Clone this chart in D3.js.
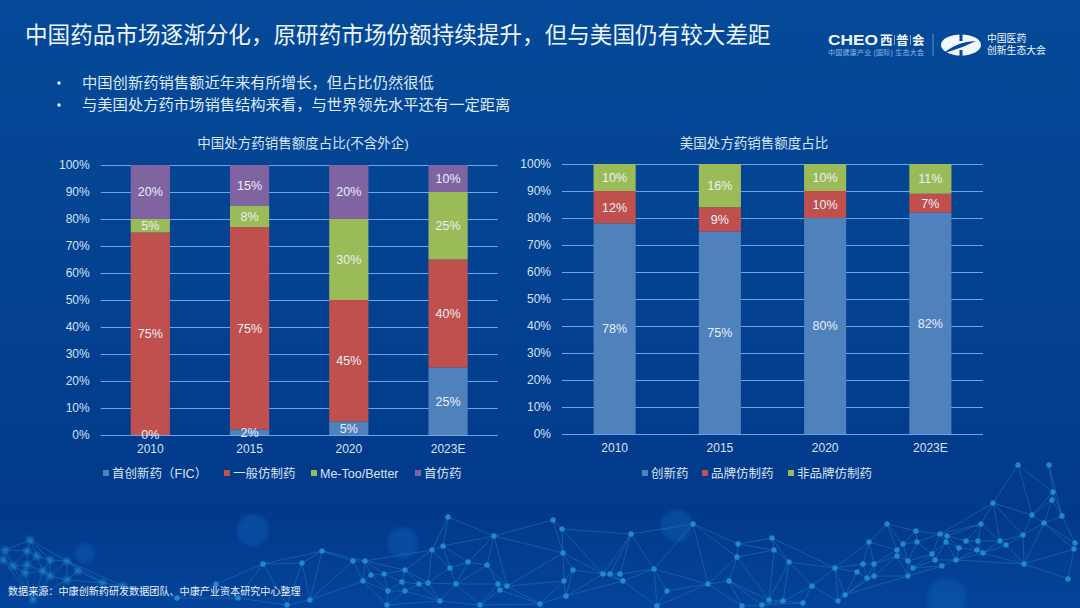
<!DOCTYPE html>
<html>
<head>
<meta charset="utf-8">
<script src="https://cdn.jsdelivr.net/npm/d3@7"></script>
<style>
  html, body { margin: 0; padding: 0; background: #03408f; }
  svg { display: block; font-family: "Liberation Sans", "Noto Sans CJK SC", sans-serif; }
</style>
</head>
<body>
<svg id="chart" width="1080" height="608"></svg>
<script>
// chart values
var years = ["2010", "2015", "2020", "2023E"];
var ticks = [0, 10, 20, 30, 40, 50, 60, 70, 80, 90, 100];

var cnNames = ["首创新药（FIC）", "一般仿制药", "Me-Too/Better", "首仿药"];
var cnFic = [0, 2, 5, 25];
var cnGeneric = [75, 75, 45, 40];
var cnMeToo = [5, 8, 30, 25];
var cnFirst = [20, 15, 20, 10];

var usNames = ["创新药", "品牌仿制药", "非品牌仿制药"];
var usInnovative = [78, 75, 80, 82];
var usBrand = [12, 9, 10, 7];
var usNonBrand = [10, 16, 10, 11];

var colors = ["#4f81bd", "#c0504d", "#9bbb59", "#8064a2"];

// background network (page pixels)
var netNodes = [[448,517],[494,536],[553,520],[562,529],[631,534],[693,524],[563,553],[573,570],[654,569],[708,584],
  [603,574],[610,574],[620,574],[623,581],[667,591],[564,581],[566,596],[487,565],[468,562],[450,568],[432,550],[443,546],
  [365,561],[405,570],[384,574],[371,575],[363,581],[402,582],[419,584],[428,583],[456,584],[498,584],[507,586],[500,590],
  [388,591],[405,591],[440,601],[387,605],[540,604],[480,605],[657,606],
  [1018,465],[1049,465],[1053,492],[1052,500],[993,503],[1032,515],[1062,516],[1044,523],[981,524],[887,524],[916,531],
  [940,534],[947,536],[917,542],[946,542],[903,544],[869,542],[772,538],[738,544],[774,550],[737,557],[789,562],[729,581],
  [835,568],[857,572],[863,564],[874,564],[867,578],[874,576],[897,550],[897,556],[908,561],[913,568],[908,576],[932,554],
  [935,560],[942,566],[956,560],[959,548],[966,541],[978,541],[977,550],[983,553],[1000,541],[1006,545],[1023,535],[1024,564],
  [1068,579],[1075,543],[1074,549],[812,586],[769,600],[783,601],[845,595],[838,601],[803,603],[762,605],[742,606],
  [322,551],[302,563],[263,564],[353,561],[216,584],[310,600],[177,598],[238,598],[287,605],
  [30,540],[5,550],[27,551],[3,560],[37,556],[50,560],[13,566],[27,565],[25,573],[43,571],[67,561],[50,576],[78,571],[67,580],
  [103,583],[33,600],[123,586]];
var blurSpots = [[253,530,16,16],[85,553,10,10],[403,543,15,16],[677,526,16,16],[947,598,20,20]];

var svg = d3.select("#chart");
var defs = svg.append("defs");

var bg = defs.append("linearGradient").attr("id", "bg").attr("x1", 0).attr("y1", 0).attr("x2", 0).attr("y2", 1);
bg.append("stop").attr("offset", "0%").attr("stop-color", "#044a98");
bg.append("stop").attr("offset", "60%").attr("stop-color", "#033f8f");
bg.append("stop").attr("offset", "85%").attr("stop-color", "#03398a");
bg.append("stop").attr("offset", "100%").attr("stop-color", "#03449a");

defs.append("filter").attr("id", "soft").append("feGaussianBlur").attr("stdDeviation", 2);
defs.append("filter").attr("id", "glow").append("feGaussianBlur").attr("stdDeviation", 0.5);
defs.append("filter").attr("id", "haze").append("feGaussianBlur").attr("stdDeviation", 1.6);

svg.append("rect").attr("width", 1080).attr("height", 608).attr("fill", "url(#bg)");

// network decoration
var delaunay = d3.Delaunay.from(netNodes);
var edges = [];
var tri = delaunay.triangles;
for (var i = 0; i < tri.length; i += 3) {
    [[tri[i], tri[i + 1]], [tri[i + 1], tri[i + 2]], [tri[i + 2], tri[i]]].forEach(function (e) {
        var a = netNodes[e[0]], b = netNodes[e[1]];
        if (e[0] < e[1] && Math.hypot(a[0] - b[0], a[1] - b[1]) < 72) edges.push([a, b]);
    });
}

var net = svg.append("g");
net.selectAll("ellipse.spot").data(blurSpots).enter().append("ellipse")
    .attr("class", "spot")
    .attr("cx", function (d) { return d[0]; })
    .attr("cy", function (d) { return d[1]; })
    .attr("rx", function (d) { return d[2]; })
    .attr("ry", function (d) { return d[3]; })
    .attr("fill", "#0f5bb2").attr("opacity", 0.5).attr("filter", "url(#soft)");
net.selectAll("line").data(edges).enter().append("line")
    .attr("x1", function (d) { return d[0][0]; })
    .attr("y1", function (d) { return d[0][1]; })
    .attr("x2", function (d) { return d[1][0]; })
    .attr("y2", function (d) { return d[1][1]; })
    .attr("stroke", "#2a86c8").attr("stroke-width", 0.7).attr("opacity", 0.6);
net.selectAll("circle").data(netNodes).enter().append("circle")
    .attr("cx", function (d) { return d[0]; })
    .attr("cy", function (d) { return d[1]; })
    .attr("r", function (d) { return d[0] < 130 ? 3.6 : 2.7; })
    .attr("fill", "#2490cf").attr("opacity", function (d) { return d[0] < 130 ? 0.6 : 0.9; })
    .attr("filter", function (d) { return d[0] < 130 ? "url(#haze)" : "url(#glow)"; });

// title + bullets
svg.append("text").attr("x", 25).attr("y", 43).attr("font-size", 22.6).attr("fill", "#eef5fb")
    .text("中国药品市场逐渐分化，原研药市场份额持续提升，但与美国仍有较大差距");

var bullets = ["中国创新药销售额近年来有所增长，但占比仍然很低", "与美国处方药市场销售结构来看，与世界领先水平还有一定距离"];
bullets.forEach(function (t, i) {
    var y = 88 + i * 22;
    svg.append("circle").attr("cx", 59).attr("cy", y - 5).attr("r", 1.7).attr("fill", "#eef5fb");
    svg.append("text").attr("x", 82).attr("y", y).attr("font-size", 15.3).attr("fill", "#dfeaf6").text(t);
});

// logo
var logo = svg.append("g").attr("fill", "#f2f7fc");
logo.append("text").attr("x", 828).attr("y", 45).attr("font-size", 15.5).attr("font-weight", "bold")
    .attr("textLength", 50).attr("lengthAdjust", "spacingAndGlyphs").text("CHEO");
logo.append("text").attr("x", 880).attr("y", 45).attr("font-size", 12.5).attr("font-weight", "bold").text("西");
logo.append("text").attr("x", 896).attr("y", 45).attr("font-size", 12.5).attr("font-weight", "bold").text("普");
logo.append("text").attr("x", 912).attr("y", 45).attr("font-size", 12.5).attr("font-weight", "bold").text("会");
logo.append("line").attr("x1", 894.5).attr("x2", 894.5).attr("y1", 35).attr("y2", 45).attr("stroke", "#c9dcf0").attr("stroke-width", 0.6);
logo.append("line").attr("x1", 910.5).attr("x2", 910.5).attr("y1", 35).attr("y2", 45).attr("stroke", "#c9dcf0").attr("stroke-width", 0.6);
logo.append("text").attr("x", 828).attr("y", 55).attr("font-size", 7).attr("fill", "#8fb8e2")
    .attr("textLength", 96).text("中国健康产业 (国际) 生态大会");
logo.append("line").attr("x1", 933).attr("x2", 933).attr("y1", 34).attr("y2", 56).attr("stroke", "#5f8fc8");
logo.append("ellipse").attr("cx", 961).attr("cy", 45).attr("rx", 20).attr("ry", 10.5);
logo.append("path").attr("d", "M941 56 Q954 42 976 41 Q962 48 948 52 Z").attr("fill", "#03479a");
logo.append("rect").attr("x", 959.5).attr("y", 34).attr("width", 3).attr("height", 7).attr("fill", "#03479a");
logo.append("rect").attr("x", 959.5).attr("y", 50).attr("width", 3).attr("height", 7).attr("fill", "#03479a");
logo.append("text").attr("x", 987).attr("y", 42).attr("font-size", 9.8).text("中国医药");
logo.append("text").attr("x", 987).attr("y", 54).attr("font-size", 9.8).text("创新生态大会");

// one stacked panel
function drawPanel(o) {
    var x = d3.scaleBand().domain(years).range(o.xRange).paddingInner(o.pad).paddingOuter(o.pad / 2);
    var y = d3.scaleLinear().domain([0, 100]).range(o.yRange);
    var g = svg.append("g");

    var rows = years.map(function (yr, i) {
        var row = { year: yr };
        o.series.forEach(function (s, k) { row["s" + k] = s[i]; });
        return row;
    });
    var keys = o.series.map(function (s, k) { return "s" + k; });
    var stacked = d3.stack().keys(keys)(rows);

    // axes
    var yAxis = d3.axisLeft(y).tickValues(ticks).tickSize(o.xRange[0] - o.xRange[1]).tickPadding(11)
        .tickFormat(function (d) { return d + "%"; });
    var ya = g.append("g").attr("transform", "translate(" + o.xRange[0] + ",0)").call(yAxis);
    ya.select(".domain").remove();
    ya.selectAll("line").attr("stroke", "#6aa6e6").attr("stroke-width", 1);
    ya.selectAll("text").attr("fill", "#d3e4f6").attr("font-size", 12)
        .attr("font-family", "Liberation Sans");

    var xAxis = d3.axisBottom(x).tickSize(0).tickPadding(9);
    var xa = g.append("g").attr("transform", "translate(0," + o.yRange[0] + ")").call(xAxis);
    xa.select(".domain").remove();
    xa.selectAll("text").attr("fill", "#d3e4f6").attr("font-size", 12)
        .attr("font-family", "Liberation Sans");

    // bars
    var layers = g.selectAll("g.layer").data(stacked).enter().append("g").attr("class", "layer");
    layers.selectAll("rect").data(function (d) { return d; }).enter().append("rect")
        .attr("x", function (d) { return x(d.data.year); })
        .attr("width", x.bandwidth())
        .attr("y", function (d) { return y(d[1]); })
        .attr("height", function (d) { return y(d[0]) - y(d[1]); })
        .attr("fill", function () { return colors[keys.indexOf(d3.select(this.parentNode).datum().key)]; });

    // value labels sit above all bars
    stacked.forEach(function (layer) {
        g.selectAll(null).data(layer).enter().append("text")
            .attr("x", function (d) { return x(d.data.year) + x.bandwidth() / 2; })
            .attr("y", function (d) { return y((d[0] + d[1]) / 2); })
            .attr("dy", "0.35em")
            .attr("text-anchor", "middle")
            .attr("font-size", 12.5)
            .attr("font-family", "Liberation Sans")
            .attr("fill", "#eaf0f7")
            .text(function (d) { return (d[1] - d[0]) + "%"; });
    });

    // chart title
    svg.append("text").attr("x", o.titleX).attr("y", 148).attr("text-anchor", "middle")
        .attr("font-size", 13.5).attr("fill", "#d7e5f5").text(o.title);

    // legend
    o.names.forEach(function (n, k) {
        svg.append("rect").attr("x", o.legendX[k]).attr("y", 470).attr("width", 6).attr("height", 6).attr("fill", colors[k]);
        svg.append("text").attr("x", o.legendX[k] + 9).attr("y", 478).attr("font-size", 12.5)
            .attr("fill", "#d7e5f5").text(n);
    });
}

drawPanel({
    title: "中国处方药销售额度占比(不含外企)", titleX: 303,
    names: cnNames, series: [cnFic, cnGeneric, cnMeToo, cnFirst],
    xRange: [100.7, 497.7], yRange: [435, 165], pad: 0.605,
    legendX: [103, 224, 311, 415]
});
drawPanel({
    title: "美国处方药销售额度占比", titleX: 754,
    names: usNames, series: [usInnovative, usBrand, usNonBrand],
    xRange: [562, 983], yRange: [434, 164], pad: 0.6,
    legendX: [642, 702, 788]
});

// source note
svg.append("text").attr("x", 8).attr("y", 595).attr("font-size", 10.1).attr("fill", "#e8f0f9")
    .text("数据来源：中康创新药研发数据团队、中康产业资本研究中心整理");
</script>
</body>
</html>
